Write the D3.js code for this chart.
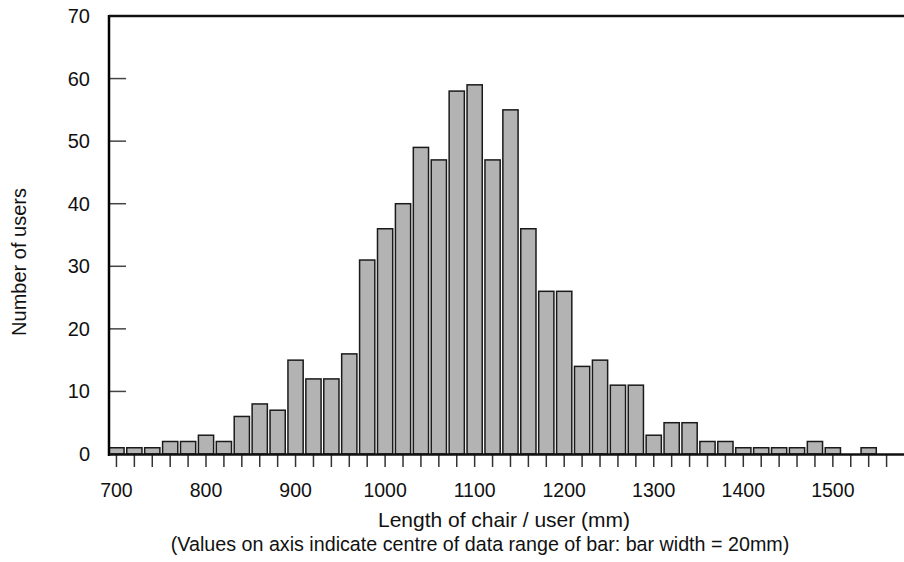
<!DOCTYPE html>
<html>
<head>
<meta charset="utf-8">
<script src="https://cdn.jsdelivr.net/npm/d3@7"></script>
<style>
  html, body { margin: 0; padding: 0; background: #fff; }
  svg { display: block; font-family: "Liberation Sans", Arial, sans-serif; }
</style>
</head>
<body>
<svg id="chart" width="904" height="562"></svg>
<script>
// Bin centres (mm), 20 mm wide bins
const binCentres = [700, 720, 740, 760, 780, 800, 820, 840, 860, 880,
  900, 920, 940, 960, 980, 1000, 1020, 1040, 1060, 1080,
  1100, 1120, 1140, 1160, 1180, 1200, 1220, 1240, 1260, 1280,
  1300, 1320, 1340, 1360, 1380, 1400, 1420, 1440, 1460, 1480,
  1500, 1520, 1540];
// Number of users in each bin
const userCounts = [1, 1, 1, 2, 2, 3, 2, 6, 8, 7,
  15, 12, 12, 16, 31, 36, 40, 49, 47, 58,
  59, 47, 55, 36, 26, 26, 14, 15, 11, 11,
  3, 5, 5, 2, 2, 1, 1, 1, 1, 2,
  1, 0, 1];
// Axis ticks and labels
const xMinorTicks = d3.range(700, 1561, 20);
const xLabelTicks = [700, 800, 900, 1000, 1100, 1200, 1300, 1400, 1500];
const yTicks = [0, 10, 20, 30, 40, 50, 60, 70];
const xTitle = "Length of chair / user (mm)";
const xSubtitle = "(Values on axis indicate centre of data range of bar: bar width = 20mm)";
const yTitle = "Number of users";
const barWidthMm = 17;

const svg = d3.select("#chart");
const W = 904;

const x = d3.scaleLinear().domain([690, 1600]).range([107.5, 107.5 + 910 * 0.8955]);
const y = d3.scaleLinear().domain([0, 70]).range([454, 16]);

const axisLeftX = 109;

// Bars
svg.append("g")
  .selectAll("rect")
  .data(binCentres.map((c, i) => ({ c, v: userCounts[i] })).filter(d => d.v > 0))
  .join("rect")
  .attr("x", d => x(d.c - barWidthMm / 2))
  .attr("width", d => x(d.c + barWidthMm / 2) - x(d.c - barWidthMm / 2))
  .attr("y", d => y(d.v))
  .attr("height", d => y(0) - y(d.v))
  .attr("fill", "#b3b3b3")
  .attr("stroke", "#1a1a1a")
  .attr("stroke-width", 1.5);

// Y ticks (inward) and labels
const yAxis = svg.append("g");
yAxis.selectAll("line")
  .data(yTicks.filter(t => t > 0 && t < 70))
  .join("line")
  .attr("x1", axisLeftX).attr("x2", axisLeftX + 17)
  .attr("y1", d => y(d)).attr("y2", d => y(d))
  .attr("stroke", "#444").attr("stroke-width", 1.5);
yAxis.selectAll("text")
  .data(yTicks)
  .join("text")
  .attr("x", 90)
  .attr("y", d => y(d))
  .attr("dy", "0.35em")
  .attr("text-anchor", "end")
  .attr("font-size", 20)
  .attr("fill", "#111")
  .text(d => d);

// X ticks (outward) and labels
const xAxis = svg.append("g");
xAxis.selectAll("line")
  .data(xMinorTicks)
  .join("line")
  .attr("x1", d => x(d)).attr("x2", d => x(d))
  .attr("y1", 455).attr("y2", 467)
  .attr("stroke", "#333").attr("stroke-width", 1.5);
xAxis.selectAll("text")
  .data(xLabelTicks)
  .join("text")
  .attr("x", d => x(d))
  .attr("y", 497)
  .attr("text-anchor", "middle")
  .attr("font-size", 19.5)
  .attr("fill", "#111")
  .text(d => d);

// Frame: left axis, baseline, top line
svg.append("line")
  .attr("x1", axisLeftX).attr("x2", axisLeftX)
  .attr("y1", y(70) - 1).attr("y2", y(0) + 2)
  .attr("stroke", "#000").attr("stroke-width", 2.5);
svg.append("line")
  .attr("x1", axisLeftX).attr("x2", W)
  .attr("y1", y(0) + 0.5).attr("y2", y(0) + 0.5)
  .attr("stroke", "#111").attr("stroke-width", 2.5);
svg.append("line")
  .attr("x1", axisLeftX).attr("x2", W)
  .attr("y1", y(70)).attr("y2", y(70))
  .attr("stroke", "#111").attr("stroke-width", 2.5);

// Titles
svg.append("text")
  .attr("x", 504).attr("y", 527)
  .attr("text-anchor", "middle")
  .attr("font-size", 21).attr("fill", "#111")
  .text(xTitle);
svg.append("text")
  .attr("x", 480).attr("y", 551)
  .attr("text-anchor", "middle")
  .attr("font-size", 19.7).attr("fill", "#111")
  .text(xSubtitle);
svg.append("text")
  .attr("transform", "translate(25.5,262) rotate(-90)")
  .attr("text-anchor", "middle")
  .attr("font-size", 20).attr("fill", "#111")
  .text(yTitle);
</script>
</body>
</html>
